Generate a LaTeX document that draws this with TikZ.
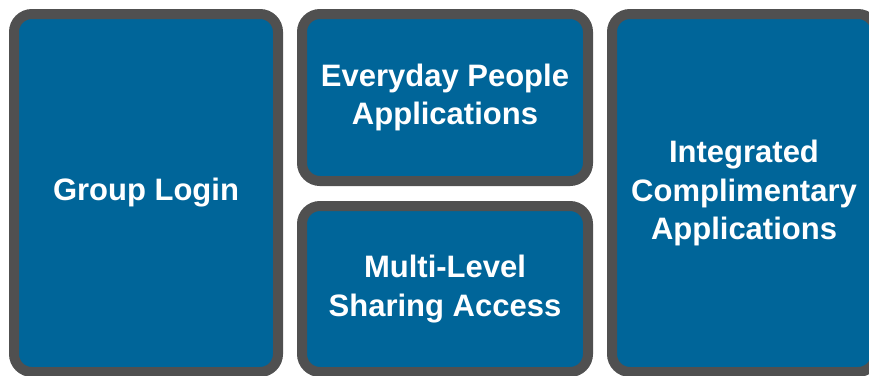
\documentclass[tikz,border=0pt]{standalone}
\usepackage{fontspec}
\setmainfont{Liberation Sans}
\usepackage{tikz}
\usepackage{xcolor}
\usetikzlibrary{calc,positioning}

\definecolor{tileblue}{RGB}{0,101,153}
\definecolor{tilegray}{RGB}{80,80,80}

\tikzset{
	tile/.style={draw=tilegray, fill=tileblue, line width=10pt, rounded corners=18pt,
		text=white, align=center, inner sep=0pt,
		font=\fontsize{31}{38.5}\selectfont\bfseries}
}

\begin{document}
\begin{tikzpicture}[x=1pt, y=-1pt]
			\useasboundingbox (0, 0) rectangle (869, 375);
			\clip (0, 0) rectangle (869, 375);
			
			\node[tile, minimum width=264pt, minimum height=358pt] (login) at (146, 193) {Group Login};
			
			%%middle column%%
			\node[tile, minimum width=286pt, minimum height=167pt] (everyday) at (445, 97.5) {Everyday People\\Applications};
			\node[tile, minimum width=286pt, minimum height=166pt] (sharing) at (445, 289) {Multi-Level\\Sharing Access};
			
			\node[tile, minimum width=264pt, minimum height=358pt] (integrated) at (744, 193) {Integrated\\Complimentary\\Applications};
		\end{tikzpicture}
\end{document}
